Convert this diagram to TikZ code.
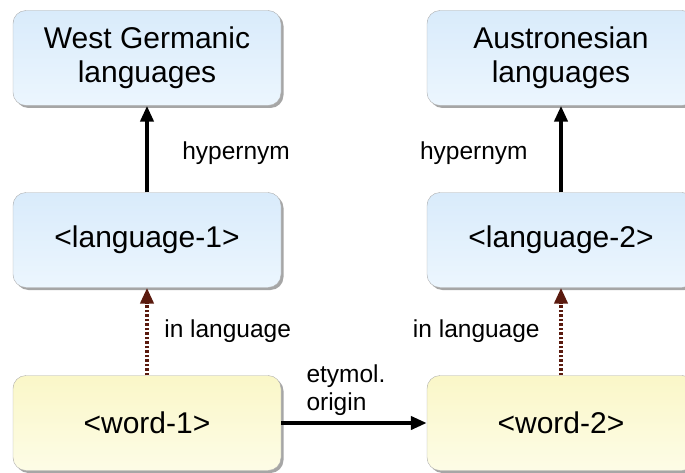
\documentclass[tikz,border=0pt]{standalone}
\usepackage{fontspec}
\setmainfont{Liberation Sans}
\usetikzlibrary{arrows.meta,shadows}
\definecolor{boxtop}{RGB}{217,235,251}
\definecolor{boxbot}{RGB}{236,246,254}
\definecolor{wordtop}{RGB}{250,247,200}
\definecolor{wordbot}{RGB}{253,252,230}
\definecolor{inlang}{RGB}{90,26,14}
\begin{document}
\begin{tikzpicture}
    [x=1pt,y=1pt,>={Triangle[length=16pt,width=13pt]},
     card/.style={draw=gray!65,rounded corners=13pt,minimum width=268pt,
       minimum height=95pt,align=center,font=\fontsize{30}{34}\selectfont,
       drop shadow={shadow xshift=2.5pt,shadow yshift=-2.5pt,fill=gray!70,opacity=1}},
     lang/.style={card,top color=boxtop,bottom color=boxbot},
     word/.style={card,top color=wordtop,bottom color=wordbot},
     isa/.style={->,line width=4pt},
     inl/.style={->,line width=4pt,draw=inlang,dash pattern=on 2.5pt off 2pt},
     lbl/.style={font=\fontsize{24.5}{28}\selectfont,align=left}]
    \path [use as bounding box,clip] (0,0) rectangle (685,472);
    \node [lang] (west) at (147,414) {West Germanic\\languages};
    \node [lang] (austro) at (561,414) {Austronesian\\languages};
    \node [lang] (lang1) at (147,232) {<language-1>}
      edge [isa] node [lbl,right=30pt,yshift=-4pt] {hypernym} (west);
    \node [lang] (lang2) at (561,232) {<language-2>}
      edge [isa] node [lbl,left=28pt,yshift=-4pt] {hypernym} (austro);
    \node [word] (word1) at (147,49) {<word-1>}
      edge [inl] node [lbl,right=12pt] {in language} (lang1);
    \node [word] (word2) at (561,49) {<word-2>}
      edge [inl] node [lbl,left=16pt] {in language} (lang2);
    \draw [isa] (word1) -- node [lbl,above=2pt,xshift=-8pt] {etymol.\\origin} (word2);
  \end{tikzpicture}
\end{document}
